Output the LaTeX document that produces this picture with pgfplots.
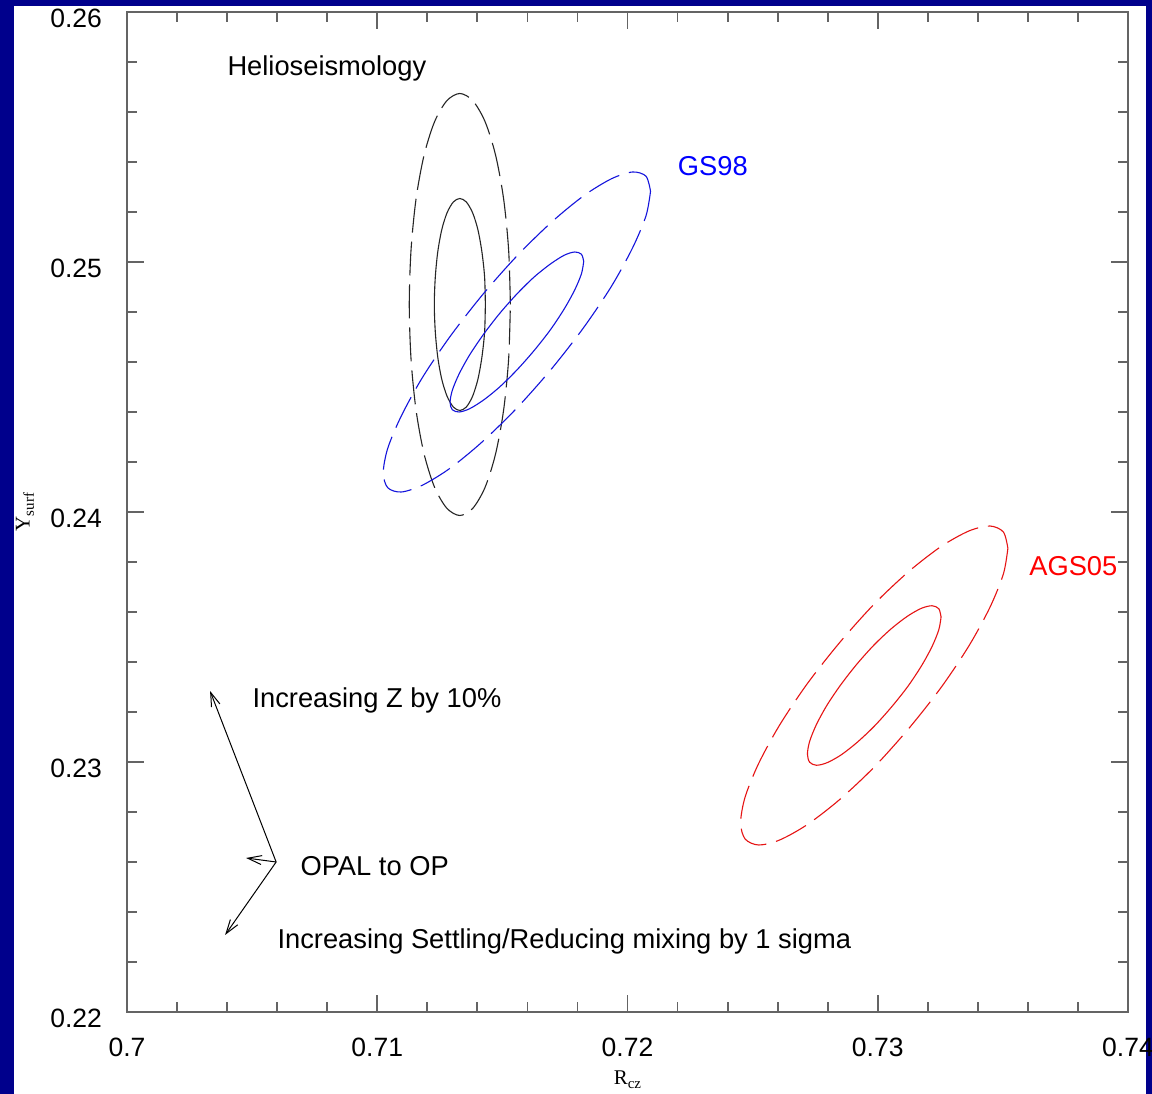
\documentclass[border=0pt]{standalone}
\usepackage{fontspec}
\setmainfont{Liberation Sans}
\newfontfamily\lserif{Liberation Serif}
\usepackage{pgfplots}
\pgfplotsset{compat=1.18}
\usetikzlibrary{arrows.meta}
\definecolor{navy}{RGB}{0,0,140}
\definecolor{axgray}{RGB}{100,100,100}
\definecolor{lblue}{RGB}{20,20,220}
\definecolor{lred}{RGB}{230,20,20}
\begin{document}
\begin{tikzpicture}
\fill[navy] (0,0) rectangle (576bp,547bp);
\fill[white] (7bp,0) rectangle (573bp,544bp);
\useasboundingbox (0,0) rectangle (576bp,547bp);
\begin{axis}[
  at={(63.5bp,41bp)}, anchor=south west,
  scale only axis, width=500.5bp, height=500bp,
  xmin=0.7, xmax=0.74, ymin=0.22, ymax=0.26,
  xtick={0.7,0.71,0.72,0.73,0.74},
  xticklabels={0.7,0.71,0.72,0.73,0.74},
  ytick={0.22,0.23,0.24,0.25,0.26},
  yticklabels={0.22,0.23,0.24,0.25,0.26},
  minor x tick num=4, minor y tick num=4,
  tick align=inside,
  major tick length=8.5bp, minor tick length=5bp,
  axis line style={axgray, line width=0.9bp},
  tick style={axgray, line width=0.9bp},
  tick label style={font=\fontsize{13.3}{15}\selectfont, black},
  xticklabel style={yshift=-9.5bp},
  yticklabel style={xshift=-9bp, yshift=-3bp},
  xlabel={{\lserif R\raisebox{-0.45ex}{\fontsize{7.5}{8}\selectfont cz}}},
  xlabel style={at={(axis description cs:0.5,-0.068)}, anchor=center, font=\fontsize{10.5}{12}\selectfont},
  ylabel={{\lserif Y\raisebox{-0.45ex}{\fontsize{7.5}{8}\selectfont surf}}},
  ylabel style={at={(axis description cs:-0.102,0.5)}, anchor=center, font=\fontsize{10.5}{12}\selectfont},
  no marks,
  every axis plot/.append style={line width=0.55bp},
]
% Helioseismology (black)
\addplot[black!85, smooth, dash pattern=on 17bp off 4.5bp] coordinates {
(0.71532,0.24830) (0.71525,0.25048) (0.71505,0.25252) (0.71473,0.25427) (0.71431,0.25561) (0.71382,0.25645) (0.71330,0.25674) (0.71278,0.25645) (0.71229,0.25561) (0.71187,0.25427) (0.71155,0.25252) (0.71135,0.25048) (0.71128,0.24830) (0.71135,0.24612) (0.71155,0.24408) (0.71187,0.24233) (0.71229,0.24099) (0.71278,0.24015) (0.71330,0.23986) (0.71382,0.24015) (0.71431,0.24099) (0.71473,0.24233) (0.71505,0.24408) (0.71525,0.24612) (0.71532,0.24830)};
\addplot[black!85, smooth] coordinates {
(0.71432,0.24830) (0.71429,0.24940) (0.71418,0.25042) (0.71402,0.25130) (0.71381,0.25197) (0.71356,0.25240) (0.71330,0.25254) (0.71304,0.25240) (0.71279,0.25197) (0.71258,0.25130) (0.71242,0.25042) (0.71232,0.24940) (0.71228,0.24830) (0.71232,0.24720) (0.71242,0.24618) (0.71258,0.24530) (0.71279,0.24463) (0.71304,0.24420) (0.71330,0.24406) (0.71356,0.24420) (0.71381,0.24463) (0.71402,0.24530) (0.71418,0.24618) (0.71429,0.24720) (0.71432,0.24830)};
% GS98 (blue)
\addplot[lblue, smooth, dash pattern=on 17bp off 5bp] coordinates {
(0.72092,0.25283) (0.72074,0.25343) (0.72020,0.25360) (0.71936,0.25333) (0.71825,0.25265) (0.71696,0.25159) (0.71558,0.25024) (0.71420,0.24868) (0.71291,0.24702) (0.71180,0.24537) (0.71096,0.24384) (0.71042,0.24255) (0.71024,0.24157) (0.71042,0.24097) (0.71096,0.24080) (0.71180,0.24107) (0.71291,0.24175) (0.71420,0.24281) (0.71558,0.24416) (0.71696,0.24572) (0.71825,0.24738) (0.71936,0.24903) (0.72020,0.25056) (0.72074,0.25185) (0.72092,0.25283)};
\addplot[lblue, smooth] coordinates {
(0.71825,0.25002) (0.71816,0.25031) (0.71789,0.25040) (0.71747,0.25027) (0.71692,0.24992) (0.71627,0.24940) (0.71558,0.24872) (0.71489,0.24794) (0.71425,0.24711) (0.71369,0.24628) (0.71327,0.24552) (0.71300,0.24487) (0.71291,0.24438) (0.71300,0.24409) (0.71327,0.24400) (0.71369,0.24413) (0.71425,0.24448) (0.71489,0.24500) (0.71558,0.24568) (0.71627,0.24646) (0.71692,0.24729) (0.71747,0.24812) (0.71789,0.24888) (0.71816,0.24953) (0.71825,0.25002)};
% AGS05 (red)
\addplot[lred, smooth, dash pattern=on 17bp off 5bp] coordinates {
(0.73520,0.23855) (0.73502,0.23920) (0.73448,0.23944) (0.73364,0.23924) (0.73253,0.23862) (0.73124,0.23762) (0.72986,0.23632) (0.72848,0.23478) (0.72719,0.23314) (0.72608,0.23148) (0.72524,0.22994) (0.72470,0.22860) (0.72452,0.22757) (0.72470,0.22692) (0.72524,0.22668) (0.72608,0.22688) (0.72719,0.22750) (0.72848,0.22850) (0.72986,0.22980) (0.73124,0.23134) (0.73253,0.23298) (0.73364,0.23464) (0.73448,0.23618) (0.73502,0.23752) (0.73520,0.23855)};
\addplot[lred, smooth] coordinates {
(0.73253,0.23580) (0.73244,0.23613) (0.73217,0.23625) (0.73175,0.23615) (0.73120,0.23584) (0.73055,0.23534) (0.72986,0.23469) (0.72917,0.23392) (0.72853,0.23310) (0.72797,0.23227) (0.72755,0.23150) (0.72728,0.23083) (0.72719,0.23032) (0.72728,0.22999) (0.72755,0.22987) (0.72797,0.22997) (0.72853,0.23028) (0.72917,0.23078) (0.72986,0.23143) (0.73055,0.23220) (0.73120,0.23302) (0.73175,0.23385) (0.73217,0.23462) (0.73244,0.23529) (0.73253,0.23580)};
% arrows
\addplot[black, line width=0.5bp, -{Straight Barb[length=7bp,width=4.5bp]}] coordinates {(0.70596,0.22600) (0.70332,0.23284)};
\addplot[black, line width=0.5bp, -{Straight Barb[length=7bp,width=4.5bp]}] coordinates {(0.70596,0.22600) (0.70476,0.22616)};
\addplot[black, line width=0.5bp, -{Straight Barb[length=7bp,width=4.5bp]}] coordinates {(0.70596,0.22600) (0.70392,0.22308)};
% labels
\node[anchor=base west, inner sep=0, font=\fontsize{13.7}{16}\selectfont] at (axis cs:0.70400,0.25744) {Helioseismology};
\node[anchor=base west, inner sep=0, font=\fontsize{13.7}{16}\selectfont, text=blue] at (axis cs:0.72200,0.25344) {GS98};
\node[anchor=base west, inner sep=0, font=\fontsize{13.7}{16}\selectfont, text=red] at (axis cs:0.73604,0.23744) {AGS05};
\node[anchor=base west, inner sep=0, font=\fontsize{13.7}{16}\selectfont] at (axis cs:0.70500,0.23216) {Increasing Z by 10\%};
\node[anchor=base west, inner sep=0, font=\fontsize{13.7}{16}\selectfont] at (axis cs:0.70692,0.22544) {OPAL to OP};
\node[anchor=base west, inner sep=0, font=\fontsize{13.7}{16}\selectfont] at (axis cs:0.70600,0.22256) {Increasing Settling/Reducing mixing by 1 sigma};
\end{axis}
\end{tikzpicture}
\end{document}
